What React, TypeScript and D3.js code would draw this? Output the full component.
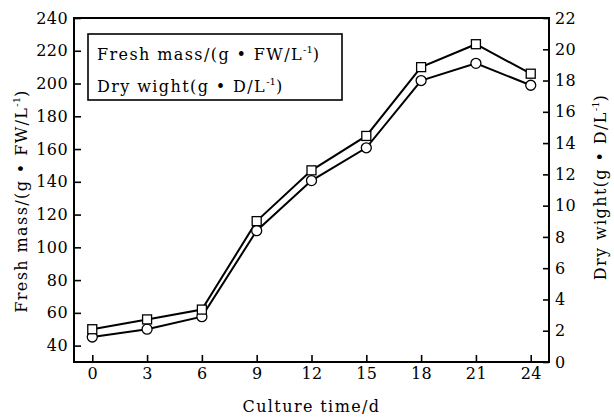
import React, { useEffect, useRef } from "react";
import * as d3 from "d3";

const days = [0, 3, 6, 9, 12, 15, 18, 21, 24];
const freshMass = [50, 56, 62, 116, 147, 168, 210, 224, 206];
const dryWeight = [1.6, 2.1, 2.9, 8.4, 11.6, 13.7, 18.0, 19.1, 17.7];
const leftTicks = [40, 60, 80, 100, 120, 140, 160, 180, 200, 220, 240];
const rightTicks = [0, 2, 4, 6, 8, 10, 12, 14, 16, 18, 20, 22];

const W = 614,
  H = 418;
const margin = { top: 18, right: 65, bottom: 56, left: 74 };
const width = W - margin.left - margin.right,
  height = H - margin.top - margin.bottom;

const x = d3.scaleLinear().domain([-1, 25]).range([0, width]);
const yL = d3.scaleLinear().domain([30, 240]).range([height, 0]);
const yR = d3.scaleLinear().domain([0, 22]).range([height, 0]);

const FONT = "DejaVu Serif";

export default function App() {
  const ref = useRef<SVGSVGElement>(null);

  useEffect(() => {
    const root = d3.select(ref.current);
    root.selectAll("*").remove();
    const svg = root
      .append("g")
      .attr("transform", `translate(${margin.left},${margin.top})`);

    // axes, ticks pointing inward
    const styleAxis = (g: any) => {
      g.attr("font-family", FONT).attr("font-size", 16);
      g.select(".domain").remove();
      g.selectAll(".tick line").attr("stroke", "#000").attr("stroke-width", 1.6);
      g.selectAll(".tick text")
        .attr("fill", "#000")
        .attr("font-family", FONT)
        .attr("font-size", 16)
        .attr("letter-spacing", 0.4);
    };

    svg
      .append("g")
      .attr("transform", `translate(0,${height})`)
      .call(d3.axisBottom(x).tickValues(days).tickSize(-7).tickPadding(6))
      .call(styleAxis);

    svg
      .append("g")
      .call(d3.axisLeft(yL).tickValues(leftTicks).tickSize(-7).tickPadding(6))
      .call(styleAxis);

    svg
      .append("g")
      .attr("transform", `translate(${width},0)`)
      .call(d3.axisRight(yR).tickValues(rightTicks).tickSize(-6).tickPadding(6))
      .call(styleAxis);

    // frame
    svg
      .append("rect")
      .attr("width", width)
      .attr("height", height)
      .attr("fill", "none")
      .attr("stroke", "#000")
      .attr("stroke-width", 2);

    // lines
    const lineL = d3
      .line<number>()
      .x((d, i) => x(days[i]))
      .y((d) => yL(d));
    const lineR = d3
      .line<number>()
      .x((d, i) => x(days[i]))
      .y((d) => yR(d));

    svg
      .append("path")
      .datum(dryWeight)
      .attr("fill", "none")
      .attr("stroke", "#000")
      .attr("stroke-width", 2)
      .attr("d", lineR);

    svg
      .append("path")
      .datum(freshMass)
      .attr("fill", "none")
      .attr("stroke", "#000")
      .attr("stroke-width", 2)
      .attr("d", lineL);

    svg
      .append("g")
      .selectAll("circle")
      .data(dryWeight)
      .enter()
      .append("circle")
      .attr("cx", (d, i) => x(days[i]))
      .attr("cy", (d) => yR(d))
      .attr("r", 5)
      .attr("fill", "#fff")
      .attr("stroke", "#000")
      .attr("stroke-width", 1.3);

    svg
      .append("g")
      .selectAll("rect")
      .data(freshMass)
      .enter()
      .append("rect")
      .attr("x", (d, i) => x(days[i]) - 4.5)
      .attr("y", (d) => yL(d) - 4.5)
      .attr("width", 9)
      .attr("height", 9)
      .attr("fill", "#fff")
      .attr("stroke", "#000")
      .attr("stroke-width", 1.3);

    // text with superscript -1
    const label = (g: any, pre: string, post: string) => {
      g.append("tspan").text(pre);
      g.append("tspan")
        .attr("dy", -7)
        .attr("font-size", 10)
        .attr("letter-spacing", 0)
        .text("-1");
      g.append("tspan").attr("dy", 7).text(post);
    };

    const textStyle = (t: any) =>
      t
        .attr("fill", "#000")
        .attr("font-family", FONT)
        .attr("font-size", 16)
        .attr("letter-spacing", 1.4);

    // legend box (no markers)
    svg
      .append("rect")
      .attr("x", 88 - margin.left)
      .attr("y", 34 - margin.top)
      .attr("width", 254)
      .attr("height", 66)
      .attr("fill", "#fff")
      .attr("stroke", "#000")
      .attr("stroke-width", 1.6);

    svg
      .append("text")
      .attr("x", 97 - margin.left)
      .attr("y", 60 - margin.top)
      .call(textStyle)
      .call(label, "Fresh mass/(g \u2022 FW/L", ")");

    svg
      .append("text")
      .attr("x", 97 - margin.left)
      .attr("y", 92 - margin.top)
      .call(textStyle)
      .call(label, "Dry wight(g \u2022 D/L", ")");

    // axis titles
    root
      .append("text")
      .attr("transform", "translate(27,201) rotate(-90)")
      .attr("text-anchor", "middle")
      .call(textStyle)
      .call(label, "Fresh mass/(g \u2022 FW/L", ")");

    root
      .append("text")
      .attr("transform", "translate(606,187) rotate(-90)")
      .attr("text-anchor", "middle")
      .call(textStyle)
      .call(label, "Dry wight(g \u2022 D/L", ")");

    root
      .append("text")
      .attr("x", margin.left + width / 2)
      .attr("y", 412)
      .attr("text-anchor", "middle")
      .call(textStyle)
      .text("Culture time/d");
  }, []);

  return (
    <svg
      ref={ref}
      width={W}
      height={H}
      style={{ position: "absolute", left: 0, top: 0, background: "#fff" }}
    />
  );
}
